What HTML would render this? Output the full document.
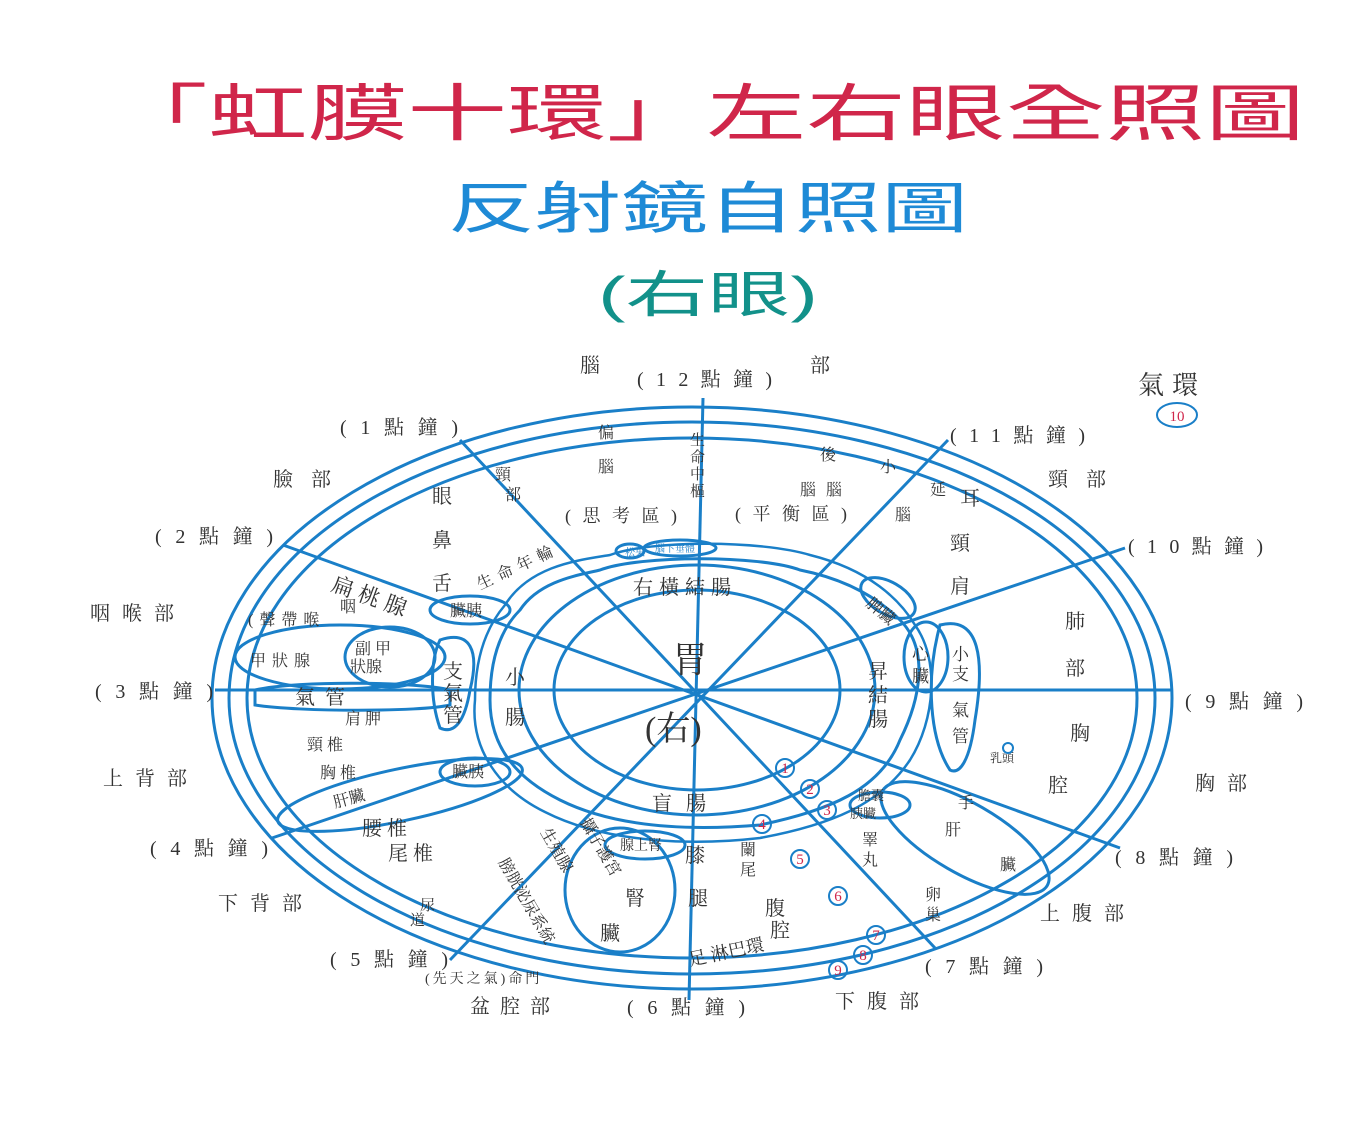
<!DOCTYPE html>
<html><head><meta charset="utf-8"><style>
body{margin:0;background:#fff;width:1360px;height:1125px;overflow:hidden}
svg{display:block}
text{font-family:"Liberation Serif","Noto Serif CJK SC","Noto Sans CJK TC",serif;fill:#333}
.t{font-family:"Liberation Sans","Noto Sans CJK TC",sans-serif}
</style></head><body>
<svg width="1360" height="1125" viewBox="0 0 1360 1125">
<text class="t" x="108" y="135" font-size="62" style="fill:#d0264a" textLength="1197" lengthAdjust="spacingAndGlyphs">「虹膜十環」左右眼全照圖</text>
<text class="t" x="448" y="228" font-size="56" style="fill:#1e8ad6" textLength="520" lengthAdjust="spacingAndGlyphs">反射鏡自照圖</text>
<text class="t" x="598" y="312" font-size="50" style="fill:#12918a" textLength="220" lengthAdjust="spacingAndGlyphs">(右眼)</text>

<g fill="none" stroke="#1a7fc8" stroke-width="3">
<ellipse cx="692" cy="698" rx="480" ry="291"/>
<ellipse cx="692" cy="698" rx="463" ry="276"/>
<ellipse cx="692" cy="698" rx="445" ry="260"/>
<ellipse cx="697" cy="690" rx="143" ry="100"/>
<ellipse cx="697" cy="690" rx="178" ry="125"/>
<path d="M520 610 C540 580 580 575 600 570 C640 555 760 555 800 570 C850 580 880 600 900 620 C930 650 920 700 900 740 C880 790 830 810 760 825 C700 830 620 830 560 800 C520 780 490 750 490 700 C490 660 500 630 520 610Z"/>
<path d="M505 605 C530 565 580 560 610 555 C650 540 760 540 810 555 C870 570 900 600 915 625 C940 660 935 720 910 760 C880 805 830 825 760 838 C700 845 610 845 545 812 C500 790 470 750 475 700 C475 655 488 625 505 605Z" stroke-width="2.5"/>
<ellipse cx="340" cy="657" rx="105" ry="32"/>
<ellipse cx="390" cy="657" rx="45" ry="30"/>
<path d="M255 690 C300 680 420 682 450 690 L450 705 C420 712 300 712 255 705Z"/>
<ellipse cx="470" cy="610" rx="40" ry="14"/>
<path d="M440 640 C470 630 480 650 470 690 C465 720 455 735 440 728 C430 700 430 660 440 640Z"/>
<ellipse cx="400" cy="795" rx="125" ry="26" transform="rotate(-12 400 795)"/>
<ellipse cx="475" cy="772" rx="35" ry="14"/>
<ellipse cx="888" cy="598" rx="30" ry="16" transform="rotate(30 888 598)"/>
<ellipse cx="926" cy="657" rx="22" ry="35"/>
<path d="M940 625 C980 615 985 660 975 720 C970 760 960 775 950 770 C930 740 925 680 940 625Z"/>
<ellipse cx="965" cy="838" rx="95" ry="35" transform="rotate(30 965 838)"/>
<ellipse cx="880" cy="805" rx="30" ry="13"/>
<ellipse cx="630" cy="551" rx="14" ry="7"/>
<ellipse cx="680" cy="548" rx="36" ry="8"/>
<ellipse cx="620" cy="890" rx="55" ry="62"/>
<ellipse cx="645" cy="845" rx="40" ry="14"/>
<line x1="703" y1="398" x2="689" y2="1000"/>
<line x1="215" y1="690" x2="1172" y2="690"/>
<line x1="460" y1="440" x2="935" y2="948"/>
<line x1="283" y1="545" x2="1120" y2="848"/>
<line x1="272" y1="838" x2="1125" y2="548"/>
<line x1="948" y1="440" x2="450" y2="960"/>
</g>
<g font-size="20">
<text x="580" y="372">腦</text><text x="810" y="372">部</text>
<text x="637" y="386" textLength="135">(12點鐘)</text>
<text x="340" y="434" textLength="118">(1點鐘)</text>
<text x="950" y="442" textLength="135">(11點鐘)</text>
<text x="273" y="486" letter-spacing="18">臉部</text>
<text x="1048" y="486" letter-spacing="18">頸部</text>
<text x="155" y="543" textLength="118">(2點鐘)</text>
<text x="1128" y="553" textLength="135">(10點鐘)</text>
<text x="90" y="620" letter-spacing="12">咽喉部</text>
<text x="95" y="698" textLength="118">(3點鐘)</text>
<text x="1185" y="708" textLength="118">(9點鐘)</text>
<text x="103" y="785" letter-spacing="12">上背部</text>
<text x="1195" y="790" letter-spacing="12">胸部</text>
<text x="150" y="855" textLength="118">(4點鐘)</text>
<text x="1115" y="864" textLength="118">(8點鐘)</text>
<text x="218" y="910" letter-spacing="12">下背部</text>
<text x="1040" y="920" letter-spacing="12">上腹部</text>
<text x="330" y="966" textLength="118">(5點鐘)</text>
<text x="925" y="973" textLength="118">(7點鐘)</text>
<text x="470" y="1013" letter-spacing="10">盆腔部</text>
<text x="627" y="1014" textLength="118">(6點鐘)</text>
<text x="835" y="1008" letter-spacing="12">下腹部</text>
<text x="1138" y="394" font-size="26" letter-spacing="8">氣環</text>
<text x="1065" y="628">肺</text><text x="1065" y="675">部</text><text x="1070" y="740">胸</text><text x="1048" y="792">腔</text>
<text x="432" y="503">眼</text><text x="432" y="547">鼻</text><text x="432" y="590">舌</text>
<text x="598" y="438" font-size="16">偏</text><text x="598" y="472" font-size="16">腦</text>
<text x="565" y="522" font-size="18" textLength="112">(思考區)</text>
<text x="735" y="520" font-size="18" textLength="112">(平衡區)</text>
<text x="820" y="460" font-size="16">後</text><text x="800" y="495" font-size="16" letter-spacing="10">腦腦</text>
<text x="880" y="472" font-size="16">小</text><text x="930" y="495" font-size="16">延</text><text x="895" y="520" font-size="16">腦</text>
<text x="960" y="505">耳</text><text x="950" y="550">頸</text><text x="950" y="593">肩</text>
<text x="690" y="445" font-size="15">生</text><text x="690" y="462" font-size="15">命</text><text x="690" y="479" font-size="15">中</text><text x="690" y="496" font-size="15">樞</text>
<text x="495" y="480" font-size="16">頸</text><text x="505" y="500" font-size="16">部</text>
<text x="480" y="590" font-size="16" transform="rotate(-25 480 590)" letter-spacing="6">生命年輪</text>
<text x="330" y="590" font-size="22" transform="rotate(20 330 590)" letter-spacing="6">扁桃腺</text>
<text x="340" y="612" font-size="16">咽</text>
<text x="248" y="625" font-size="16" letter-spacing="6">(聲帶喉</text>
<text x="450" y="616" font-size="16">臟胰</text>
<text x="250" y="666" font-size="16" letter-spacing="6">甲狀腺</text>
<text x="355" y="654" font-size="16">副 甲</text><text x="350" y="672" font-size="16">狀腺</text>
<text x="295" y="704" letter-spacing="10">氣管</text>
<text x="443" y="678">支</text><text x="443" y="700">氣</text><text x="443" y="722">管</text>
<text x="345" y="724" font-size="16">肩 胛</text>
<text x="307" y="750" font-size="16">頸 椎</text>
<text x="320" y="778" font-size="16">胸 椎</text>
<text x="335" y="808" font-size="16" transform="rotate(-15 335 808)">肝臟</text>
<text x="452" y="777" font-size="16">臟胰</text>
<text x="362" y="835">腰 椎</text><text x="388" y="860">尾 椎</text>
<text x="420" y="910" font-size="15">尿</text><text x="410" y="925" font-size="15">道</text>
<text x="425" y="983" font-size="14" letter-spacing="3">(先天之氣)命門</text>
<text x="690" y="966" font-size="18" transform="rotate(-12 690 966)">足 淋巴環</text>
<text x="498" y="862" font-size="16" transform="rotate(60 498 862)">膀胱泌尿系統</text>
<text x="540" y="832" font-size="16" transform="rotate(60 540 832)">生殖腺</text>
<text x="580" y="822" font-size="16" transform="rotate(60 580 822)">攝子護宮</text>
<text x="620" y="850" font-size="14">腺上腎</text>
<text x="625" y="905">腎</text><text x="600" y="940">臟</text>
<text x="685" y="862">膝</text><text x="688" y="905">腿</text>
<text x="740" y="855" font-size="16">闌</text><text x="740" y="875" font-size="16">尾</text>
<text x="765" y="915">腹</text><text x="770" y="937">腔</text>
<text x="652" y="810" letter-spacing="14">盲腸</text>
<text x="505" y="684">小</text><text x="505" y="724">腸</text>
<text x="633" y="594" letter-spacing="6">右橫結腸</text>
<text x="672" y="672" font-size="36">胃</text>
<text x="645" y="740" font-size="34">(右)</text>
<text x="868" y="678">昇</text><text x="868" y="702">結</text><text x="868" y="726">腸</text>
<text x="865" y="605" font-size="16" transform="rotate(40 865 605)">脾臟</text>
<text x="912" y="660" font-size="17">心</text><text x="912" y="682" font-size="17">臟</text>
<text x="952" y="660" font-size="17">小</text><text x="952" y="680" font-size="17">支</text><text x="952" y="716" font-size="17">氣</text><text x="952" y="742" font-size="17">管</text>
<text x="990" y="762" font-size="12">乳頭</text>
<text x="858" y="800" font-size="13">膽囊</text><text x="850" y="818" font-size="13">胰臟</text>
<text x="958" y="808" font-size="16">手</text><text x="945" y="835" font-size="16">肝</text><text x="1000" y="870" font-size="16">臟</text>
<text x="862" y="845" font-size="16">睪</text><text x="862" y="865" font-size="16">丸</text>
<text x="925" y="900" font-size="16">卵</text><text x="925" y="920" font-size="16">巢</text>
<text x="625" y="556" font-size="10" style="fill:#1a7fc8">松果</text>
<text x="655" y="552" font-size="10" style="fill:#1a7fc8">腦下垂體</text>
</g>
<g fill="none" stroke="#1a7fc8" stroke-width="2">
<ellipse cx="1177" cy="415" rx="20" ry="12"/>
<circle cx="785" cy="768" r="9"/><circle cx="810" cy="789" r="9"/><circle cx="827" cy="810" r="9"/>
<circle cx="762" cy="824" r="9"/><circle cx="800" cy="859" r="9"/><circle cx="838" cy="896" r="9"/>
<circle cx="876" cy="935" r="9"/><circle cx="863" cy="955" r="9"/><circle cx="838" cy="970" r="9"/>
<circle cx="1008" cy="748" r="5"/>
</g>
<g font-size="15" class="t" text-anchor="middle">
<text x="1177" y="421" style="fill:#d0264a">10</text>
<text x="785" y="773" style="fill:#d0264a">1</text><text x="810" y="794" style="fill:#d0264a">2</text><text x="827" y="815" style="fill:#d0264a">3</text>
<text x="762" y="829" style="fill:#d0264a">4</text><text x="800" y="864" style="fill:#d0264a">5</text><text x="838" y="901" style="fill:#d0264a">6</text>
<text x="876" y="940" style="fill:#d0264a">7</text><text x="863" y="960" style="fill:#d0264a">8</text><text x="838" y="975" style="fill:#d0264a">9</text>
</g>
</svg>
</body></html>
